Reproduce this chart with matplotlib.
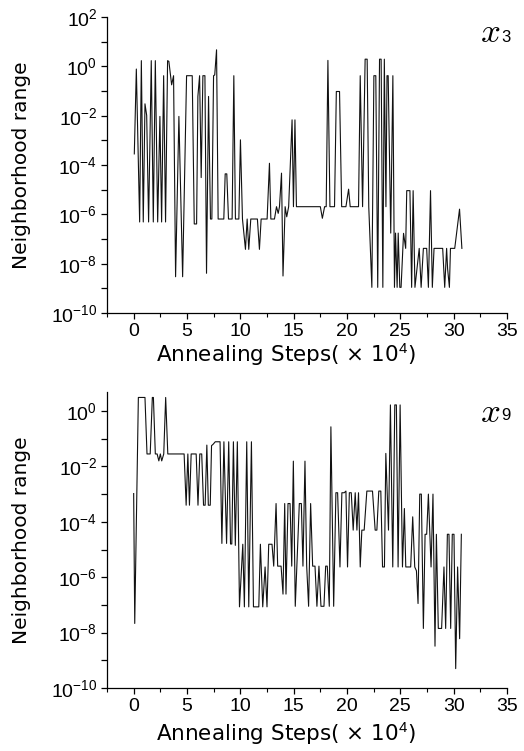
import numpy as np
import matplotlib
matplotlib.use("Agg")
import matplotlib.pyplot as plt
from matplotlib.ticker import MultipleLocator, FixedLocator, FixedFormatter

plt.rcParams['font.family'] = ['Liberation Sans', 'DejaVu Sans']
plt.rcParams['mathtext.fontset'] = 'custom'
plt.rcParams['mathtext.rm'] = 'Liberation Sans'
plt.rcParams['mathtext.it'] = 'Liberation Sans:italic'

# ---- data: x in units of 1e4 annealing steps, y given as log10(range) ----
x3_steps = [0.06, 0.25, 0.56, 0.72, 0.90, 1.06, 1.22, 1.40, 1.65, 1.84, 2.03, 2.25, 2.46, 2.62,
            2.81, 2.99, 3.18, 3.30, 3.56, 3.74, 3.93, 4.24, 4.59, 4.96, 5.49, 5.68, 5.90, 6.02,
            6.18, 6.33, 6.49, 6.68, 6.83, 7.02, 7.20, 7.33, 7.49, 7.60, 7.77, 7.92, 8.45, 8.58,
            8.73, 8.89, 9.23, 9.39, 9.54, 9.86, 10.01, 10.20, 10.48, 10.64, 10.79, 10.98, 11.60,
            11.79, 11.95, 12.51, 12.73, 12.86, 13.20, 13.39, 13.55, 13.67, 13.86, 14.00, 14.20,
            14.35, 14.53, 14.85, 14.98, 15.12, 15.26, 17.50, 17.69, 17.90, 18.05, 18.21, 18.40,
            18.83, 19.00, 19.30, 19.50, 19.90, 20.15, 20.30, 21.08, 21.24, 21.46, 21.70, 21.89,
            22.04, 22.33, 22.52, 22.70, 22.88, 23.05, 23.20, 23.36, 23.50, 23.65, 23.75, 23.86,
            24.10, 24.30, 24.45, 24.55, 24.70, 24.80, 24.95, 25.07, 25.30, 25.50, 25.60, 25.90,
            26.06, 26.20, 26.37, 26.77, 26.95, 27.16, 27.47, 27.63, 27.83, 28.00, 28.16, 28.97,
            29.16, 29.34, 29.43, 29.60, 29.70, 30.10, 30.55, 30.77]
x3_log10 = [-3.55, -0.11, -6.31, 0.23, -6.31, -1.52, -1.99, -6.31, 0.23, -6.31, 0.23, -6.31, -2.03, -6.31,
            -0.38, -6.31, 0.23, 0.20, -0.75, -0.38, -8.53, -2.03, -8.53, -0.38, -0.38, -6.39, -6.39, -1.22,
            -0.38, -4.51, -0.38, -0.38, -8.39, -1.22, -6.19, -6.19, -0.38, -0.35, 0.67, -6.19, -6.19, -4.36,
            -4.36, -6.19, -6.19, -0.38, -6.19, -6.19, -2.98, -6.19, -7.42, -6.19, -7.42, -6.19, -6.19,
            -7.42, -6.19, -6.19, -3.93, -6.19, -6.19, -5.69, -5.96, -5.69, -4.33, -8.50, -5.69,
            -6.10, -5.69, -2.17, -5.69, -2.17, -5.69, -5.69, -6.16, -5.69, -5.69, 0.24, -5.69,
            -5.69, -1.02, -1.02, -5.69, -5.69, -4.98, -5.69, -5.69, -0.38, -5.69, 0.29, 0.29,
            -5.69, -8.96, -0.38, -0.38, -8.96, 0.29, 0.29, -8.96, 0.29, -5.69, -0.38, -0.38,
            -6.76, -0.38, -8.96, -6.76, -8.96, -6.76, -8.96, -8.96, -6.77, -7.38, -5.04, -5.04,
            -8.96, -5.04, -8.96, -7.38, -8.96, -7.38, -7.38, -8.96, -5.04, -8.96, -7.38, -7.38,
            -8.96, -7.38, -8.20, -8.96, -7.38, -7.38, -5.79, -7.38]

x9_steps = [0.00, 0.10, 0.44, 1.06, 1.25, 1.55, 1.75, 1.85, 2.03, 2.20, 2.36, 2.50, 2.63, 2.82,
            3.00, 3.20, 4.73, 4.92, 5.08, 5.23, 5.39, 5.86, 6.03, 6.20, 6.38, 6.55, 6.70, 6.86,
            7.00, 7.18, 7.30, 7.45, 7.65, 8.10, 8.27, 8.46, 8.71, 8.91, 9.08, 9.20, 9.35, 9.53,
            9.72, 9.92, 10.23, 10.38, 10.60, 10.79, 11.04, 11.23, 11.73, 11.88, 12.10, 12.32,
            12.50, 12.66, 12.97, 13.13, 13.35, 13.50, 13.82, 14.00, 14.16, 14.28, 14.47, 14.66,
            14.82, 14.97, 15.15, 15.53, 15.72, 15.87, 16.06, 16.22, 16.40, 16.59, 16.78, 17.00,
            17.18, 17.37, 17.56, 17.84, 18.00, 18.15, 18.34, 18.49, 18.75, 18.96, 19.12, 19.34,
            19.52, 19.74, 19.90, 20.05, 20.22, 20.40, 20.58, 20.77, 20.93, 21.08, 21.24, 21.39,
            21.61, 21.86, 22.39, 22.64, 22.80, 22.98, 23.17, 23.33, 23.51, 23.64, 23.89, 24.07,
            24.29, 24.48, 24.63, 24.79, 24.98, 25.20, 25.38, 25.51, 25.97, 26.16, 26.35, 26.51,
            26.66, 26.82, 26.97, 27.16, 27.32, 27.47, 27.63, 27.88, 28.06, 28.25, 28.38, 28.56,
            28.87, 29.09, 29.25, 29.41, 29.56, 29.72, 29.87, 30.03, 30.19, 30.37, 30.56, 30.72]
x9_log10 = [-2.98, -7.67, 0.49, 0.49, -1.55, -1.55, 0.49, 0.49, -1.55, -1.55, -1.80, -1.55, -1.80, -1.55,
            0.49, -1.55, -1.55, -3.40, -1.55, -3.40, -1.55, -1.55, -3.40, -1.55, -1.55, -3.40, -3.40, -1.23,
            -3.40, -3.40, -1.25, -1.20, -1.11, -1.11, -4.78, -1.11, -4.78, -1.11, -4.80, -4.80, -1.11, -4.85,
            -1.11, -7.07, -4.81, -7.07, -1.11, -7.07, -1.11, -7.07, -7.07, -4.81, -7.07, -5.63,
            -7.07, -4.81, -4.81, -5.60, -3.34, -5.60, -5.60, -6.61, -3.34, -6.61, -3.34, -3.34,
            -5.60, -1.81, -7.05, -3.34, -3.34, -5.60, -1.81, -5.60, -7.05, -3.34, -5.60, -5.60,
            -7.05, -5.60, -7.05, -7.05, -5.60, -5.60, -7.05, -0.57, -7.05, -2.95, -2.95, -5.63,
            -2.95, -2.95, -2.89, -5.63, -2.95, -2.95, -4.30, -2.95, -4.30, -2.95, -5.63, -4.30,
            -4.30, -2.89, -2.89, -4.30, -4.30, -2.89, -2.89, -5.63, -5.63, -1.53, -4.30, 0.22,
            -5.63, 0.22, 0.22, -5.63, 0.22, -5.63, -3.52, -5.63, -5.63, -3.82, -5.63, -5.77,
            -6.95, -3.00, -3.00, -7.85, -4.45, -4.45, -3.00, -5.63, -3.00, -8.49, -4.45, -7.85,
            -7.85, -5.63, -7.85, -4.45, -4.45, -7.85, -4.45, -4.45, -9.30, -5.63, -8.22, -4.45]

x_ticks = [0, 5, 10, 15, 20, 25, 30, 35]
panel_names = ['3', '9']

W, H = 524, 751
fig = plt.figure(figsize=(W / 100, H / 100), dpi=100)

def px(x0, y0, x1, y1):
    return [x0 / W, 1 - y1 / H, (x1 - x0) / W, (y1 - y0) / H]

ax1 = fig.add_axes(px(107, 17, 507, 313))
ax2 = fig.add_axes(px(107, 392, 507, 688))

series = [(ax1, x3_steps, x3_log10, 1e2, list(range(-10, 3)), -0.094),
          (ax2, x9_steps, x9_log10, 10 ** 0.687, list(range(-10, 1)), -0.11)]

label_font = ['DejaVu Sans']

for ax, xs, ls, ytop, decades, xlab_y in series:
    ax.plot(xs, 10.0 ** np.array(ls), color='#111111', lw=0.8)
    ax.set_yscale('log')
    ax.set_ylim(1e-10, ytop)
    ax.set_xlim(-2.5, 35)
    ax.set_xticks(x_ticks)
    ax.xaxis.set_minor_locator(MultipleLocator(2.5))
    ax.yaxis.set_major_locator(FixedLocator([10.0 ** d for d in decades]))
    ax.yaxis.set_major_formatter(FixedFormatter(
        [r'$10^{%d}$' % d if d % 2 == 0 else '' for d in decades]))
    ax.yaxis.set_minor_locator(FixedLocator([]))
    for s in ['top', 'right']:
        ax.spines[s].set_visible(False)
    for s in ['left', 'bottom']:
        ax.spines[s].set_linewidth(0.9)
    ax.tick_params(axis='both', which='major', direction='out', length=4, width=0.9,
                   labelsize=14, pad=3)
    ax.tick_params(axis='x', which='minor', direction='out', length=3, width=0.8)
    ax.set_ylabel('Neighborhood range', fontsize=14.5, family=label_font)
    ax.yaxis.set_label_coords(-0.19, 0.5)
    ax.set_xlabel('Annealing Steps( × 10$^{4}$)', fontsize=15.5, family=label_font)
    ax.xaxis.set_label_coords(0.448, xlab_y)

for (yx, ys), name in zip([(33, 37), (412, 416)], panel_names):
    fig.text(490 / W, 1 - yx / H, r'$x$', math_fontfamily='cm', fontsize=25,
             ha='center', va='center')
    fig.text(506 / W, 1 - ys / H, name, fontsize=12, ha='center', va='center')

fig.savefig('out.png', dpi=100)
